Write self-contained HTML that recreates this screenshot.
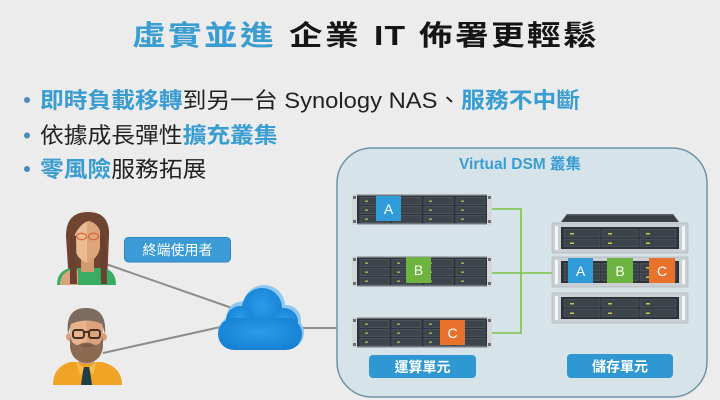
<!DOCTYPE html>
<html><head><meta charset="utf-8"><style>
html,body{margin:0;padding:0}
body{width:720px;height:400px;background:#ececec;position:relative;overflow:hidden;font-family:"Liberation Sans","Noto Sans CJK TC",sans-serif}
svg{position:absolute;left:0;top:0}
.t{position:absolute;font-size:28px;line-height:28px;font-weight:bold;letter-spacing:2px;white-space:nowrap;transform:scaleX(1.2);transform-origin:0 0;color:#151515}
.b{color:#3a9dd1}
.bl{position:absolute;left:40px;font-size:22px;line-height:22px;white-space:nowrap;transform:scaleX(1.08);transform-origin:0 0;color:#222}
.bl .b{font-weight:bold}
</style></head><body>
<svg width="720" height="400" viewBox="0 0 720 400" xmlns="http://www.w3.org/2000/svg">
<defs>
<radialGradient id="cg" cx="0.5" cy="0.45" r="0.6">
<stop offset="0" stop-color="#2b9cea"/><stop offset="1" stop-color="#1580d2"/>
</radialGradient>
<g id="srv">
<rect width="140" height="31" fill="#a9afb4"/>
<rect x="5" y="1.5" width="130" height="28" fill="#2e343a"/>
<rect x="0" y="0" width="5" height="31" fill="#d3d7da"/>
<rect x="135" y="0" width="5" height="31" fill="#d3d7da"/>
<rect x="1" y="2" width="3" height="3" fill="#6a7075"/>
<rect x="1" y="26" width="3" height="3" fill="#6a7075"/>
<rect x="136" y="2" width="3" height="3" fill="#6a7075"/>
<rect x="136" y="26" width="3" height="3" fill="#6a7075"/>
<g fill="#3d444b" stroke="#59626a" stroke-width="0.6">
<rect x="8" y="3.5" width="29" height="7"/><rect x="40" y="3.5" width="29" height="7"/><rect x="72" y="3.5" width="29" height="7"/><rect x="104" y="3.5" width="29" height="7"/>
<rect x="8" y="12.5" width="29" height="7"/><rect x="40" y="12.5" width="29" height="7"/><rect x="72" y="12.5" width="29" height="7"/><rect x="104" y="12.5" width="29" height="7"/>
<rect x="8" y="21.5" width="29" height="7"/><rect x="40" y="21.5" width="29" height="7"/><rect x="72" y="21.5" width="29" height="7"/><rect x="104" y="21.5" width="29" height="7"/>
</g>
<g fill="#b9bd4a">
<rect x="13" y="6.5" width="3" height="1.3"/><rect x="45" y="6.5" width="3" height="1.3"/><rect x="77" y="6.5" width="3" height="1.3"/><rect x="109" y="6.5" width="3" height="1.3"/>
<rect x="13" y="15.5" width="3" height="1.3"/><rect x="45" y="15.5" width="3" height="1.3"/><rect x="77" y="15.5" width="3" height="1.3"/><rect x="109" y="15.5" width="3" height="1.3"/>
<rect x="13" y="24.5" width="3" height="1.3"/><rect x="45" y="24.5" width="3" height="1.3"/><rect x="77" y="24.5" width="3" height="1.3"/><rect x="109" y="24.5" width="3" height="1.3"/>
</g>
</g>
<g id="tray">
<rect width="136" height="30" rx="1.5" fill="#cacfd3" stroke="#b0b6ba" stroke-width="0.8"/>
<rect x="9" y="4" width="118" height="22" fill="#2c3238"/>
<rect x="3" y="3" width="3" height="24" fill="#f2f4f5"/>
<rect x="130" y="3" width="3" height="24" fill="#f2f4f5"/>
<g fill="#3c434a" stroke="#566069" stroke-width="0.6">
<rect x="12" y="6.5" width="36" height="7.5"/><rect x="50" y="6.5" width="36" height="7.5"/><rect x="88" y="6.5" width="36" height="7.5"/>
<rect x="12" y="16" width="36" height="7.5"/><rect x="50" y="16" width="36" height="7.5"/><rect x="88" y="16" width="36" height="7.5"/>
</g>
<g fill="#cdc84a">
<rect x="18" y="10" width="4" height="1.5"/><rect x="56" y="10" width="4" height="1.5"/><rect x="94" y="10" width="4" height="1.5"/>
<rect x="18" y="19.5" width="4" height="1.5"/><rect x="56" y="19.5" width="4" height="1.5"/><rect x="94" y="19.5" width="4" height="1.5"/>
</g>
</g>
</defs>

<!-- panel -->
<rect x="337" y="148" width="370" height="249" rx="35" fill="#d6e4ea" stroke="#6e93a6" stroke-width="1.5"/>
<text x="520" y="169" text-anchor="middle" font-family="Liberation Sans, Noto Sans CJK TC, sans-serif" font-size="15.5" font-weight="bold" fill="#3a9dd1">Virtual DSM 叢集</text>

<!-- green connectors -->
<g stroke="#7cc24a" stroke-width="1.6" fill="none">
<polyline points="492,209 521,209 521,333 492,333"/>
<line x1="492" y1="273" x2="553" y2="273"/>
</g>

<!-- compute servers -->
<use href="#srv" x="352" y="194"/>
<use href="#srv" x="352" y="256"/>
<use href="#srv" x="352" y="317"/>
<rect x="376" y="196" width="25" height="25" fill="#2f9bd8"/>
<rect x="406" y="257" width="25" height="26" fill="#6db33f"/>
<rect x="440" y="320" width="25" height="25" fill="#e8712c"/>
<g font-family="Liberation Sans, sans-serif" font-size="14" fill="#ffffff" text-anchor="middle">
<text x="388.5" y="214">A</text>
<text x="418.5" y="275">B</text>
<text x="452.5" y="338">C</text>
</g>

<!-- storage -->
<polygon points="567,214 673,214 679,222 561,222" fill="#3b4046"/>
<rect x="567" y="214" width="106" height="1.5" fill="#5a6066"/>
<use href="#tray" x="552" y="223"/>
<use href="#tray" x="552" y="257"/>
<use href="#tray" x="552" y="293"/>
<rect x="568" y="258" width="25" height="25" fill="#2f9bd8"/>
<rect x="607" y="258" width="26" height="25" fill="#6db33f"/>
<rect x="649" y="258" width="26" height="25" fill="#e8712c"/>
<g font-family="Liberation Sans, sans-serif" font-size="14" fill="#ffffff" text-anchor="middle">
<text x="580.5" y="276">A</text>
<text x="620" y="276">B</text>
<text x="662" y="276">C</text>
</g>

<!-- unit labels -->
<rect x="369" y="355" width="107" height="23" rx="4" fill="#2f98d3"/>
<rect x="567" y="354" width="106" height="24" rx="4" fill="#2f98d3"/>
<g font-family="Liberation Sans, Noto Sans CJK TC, sans-serif" font-size="14" font-weight="bold" fill="#ffffff" text-anchor="middle">
<text x="422.5" y="372">運算單元</text>
<text x="620" y="371.5">儲存單元</text>
</g>

<!-- grey connectors -->
<g stroke="#8c8c8c" stroke-width="2">
<line x1="103" y1="263" x2="232" y2="308"/>
<line x1="103" y1="353" x2="225" y2="326"/>
<line x1="298" y1="328" x2="337" y2="328"/>
</g>

<!-- end user label -->
<rect x="124.5" y="237.5" width="106" height="24.5" rx="4" fill="#3a9bd6" stroke="#2e86be" stroke-width="1"/>
<text x="177.5" y="255" text-anchor="middle" font-family="Liberation Sans, Noto Sans CJK TC, sans-serif" font-size="14" fill="#ffffff">終端使用者</text>

<!-- cloud -->
<g fill="#8fc8ee">
<circle cx="264" cy="306" r="21"/><circle cx="242" cy="317" r="15.5"/><circle cx="286" cy="320" r="15"/>
<rect x="218" y="316" width="86" height="33" rx="16.5"/>
</g>
<g fill="url(#cg)">
<circle cx="262" cy="308" r="20"/><circle cx="240" cy="320" r="14"/><circle cx="284" cy="322" r="14"/>
<rect x="218" y="318" width="84" height="32" rx="16"/>
</g>

<!-- woman -->
<path d="M69,284 L66,236 Q66,212 88,212 Q110,212 109,236 L107,284 Z" fill="#6f4532"/>
<path d="M57,285 Q57,271 70,268 L104,268 Q116,271 116,285 Z" fill="#3aab62"/>
<path d="M60,285 Q60,274 70,270 L78,270 L78,285 Z" fill="#d9a47b"/>
<rect x="81" y="252" width="13" height="20" fill="#d39a70"/>
<path d="M75,228 Q75,218 87,218 Q100,218 100,228 L100,246 Q99,258 87,263 Q75,258 75,246 Z" fill="#eabc94"/>
<path d="M87,218 Q100,218 100,228 L100,246 Q99,258 87,263 Z" fill="#dca57c"/>
<path d="M74,236 Q73,216 88,215 Q103,216 102,236 Q98,222 88,221 Q80,224 74,236 Z" fill="#6f4532"/>
<path d="M70,236 L76,236 L77,284 L70,284 Z" fill="#6a4130"/>
<path d="M100,236 L106,236 L107,284 L101,284 Z" fill="#6a4130"/>
<g fill="none" stroke="#d66a3c" stroke-width="1.3">
<ellipse cx="81.5" cy="236.5" rx="5" ry="3.2"/><ellipse cx="93.5" cy="236.5" rx="5" ry="3.2"/>
</g>

<!-- man -->
<path d="M53,385 Q53,367 70,362 L102,362 Q122,367 122,385 Z" fill="#f0a324"/>
<rect x="79" y="350" width="15" height="14" fill="#d49a72"/>
<path d="M76,361 L86,370 L80,375 Z" fill="#f7bd4e"/>
<path d="M97,361 L87,370 L93,375 Z" fill="#f7bd4e"/>
<polygon points="84,367 89,367 90,371 92,385 81,385 83,371" fill="#1f3e46"/>
<circle cx="70" cy="337" r="4" fill="#d9a07a"/>
<circle cx="103" cy="337" r="4" fill="#d9a07a"/>
<rect x="70" y="312" width="33" height="46" rx="12" fill="#e6b48f"/>
<path d="M86.5,312 L91,312 Q103,312 103,324 L103,346 Q98,358 86.5,358 Z" fill="#dca47d"/>
<path d="M68,334 Q65,308 86,308 Q107,308 105,334 L102,324 Q87,317 71,324 Z" fill="#7d6b5f"/>
<path d="M70,336 L70,347 Q72,362 86.5,363 Q101,362 103,347 L103,336 Q101,345 95,345 Q87,340 78,345 Q72,345 70,336 Z" fill="#8c6a52"/>
<path d="M80,346 Q86.5,342 93,346 Q86.5,349 80,346 Z" fill="#7a5b45"/>
<g fill="none" stroke="#4a3022" stroke-width="2">
<rect x="73" y="330" width="11" height="8" rx="2.5"/><rect x="89" y="330" width="11" height="8" rx="2.5"/>
<line x1="84" y1="332" x2="89" y2="332"/>
</g>

<!-- bullet dots -->
<g fill="#4b8bb5">
<circle cx="27" cy="100" r="3"/><circle cx="27" cy="135.5" r="3"/><circle cx="27" cy="169" r="3"/>
</g>
</svg>

<div class="t b" style="left:132px;top:21.5px">虛實並進</div>
<div class="t" style="left:289px;top:21.5px">企業</div>
<div class="t" style="left:374px;top:21.5px;letter-spacing:1px">IT</div>
<div class="t" style="left:419px;top:21.5px">佈署更輕鬆</div>

<div class="bl" style="top:90px"><span class="b">即時負載移轉</span>到另一台 Synology NAS、<span class="b">服務不中斷</span></div>
<div class="bl" style="top:125px">依據成長彈性<span class="b">擴充叢集</span></div>
<div class="bl" style="top:159px"><span class="b">零風險</span>服務拓展</div>
</body></html>
